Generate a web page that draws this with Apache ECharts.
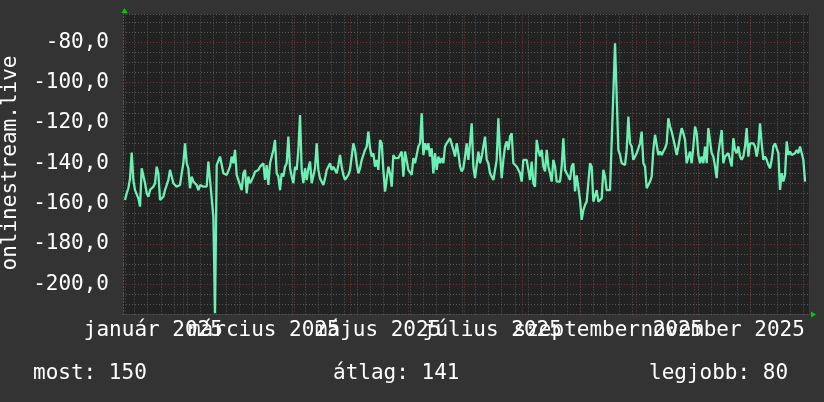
<!DOCTYPE html>
<html><head><meta charset="utf-8">
<script src="https://cdn.jsdelivr.net/npm/echarts@6/dist/echarts.min.js"></script>
<style>html,body{margin:0;padding:0;background:#333333;}#c{width:824px;height:402px;}</style>
</head><body><div id="c"></div><script>
const axisTitle = 'onlinestream.live';
const valuesFirstPart = [
-158.2,-154.9,-152.4,-147.5,-134.7,-148.3,-153.3,-154.1,-157.4,-161.5,
-142.5,-143.3,-149.9,-154.9,-156.6,-153.3,-152.4,-151.6,-149.9,-141.7,
-145,-158.2,-158.2,-156.6,-153.3,-150.8,-148.3,-143.3,-146.6,-149.9,
-150.8,-151.6,-150.8,-150.8,-145,-140,-130.1,-140,-142.5,-152.4,
-146.6,-149.1,-148.3,-150.8,-153.3,-150.8,-149.9,-151.6,-152.4,-151.6,
-139.2,-148.3,-147.5,-166.5,-214.4,-140.9,-141.7,-136.7,-137.5,-145,
-144.2,-145.8,-145,-141.7,-136.7,-140,-133.4,-145.8,-146.6,-150.8,
-153.3,-145,-143.3,-154.9,-146.6,-149.9,-148.3,-146.6,-144.2,-145,
-143.3,-141.7,-141.7,-140,-148.3,-140.9,-150.8,-140,-140,-133.4,
-128.5,-145,-146.6,-153.3,-145,-146.6,-141.7,-140,-126.8,-142.5,
-146.6,-149.9,-141.7,-143.3,-133.4,-116.1,-143.3,-149.9,-142.5,-148.3,
-142.5,-139.2,-149.9,-149.9,-142.5,-130.1,-143.3,-147.5,-146.6,-150.8,
-147.5,-143.3,-144.2,-140,-143.3,-141.7,-143.3,-145,-140.9,-135.9,
-141.7,-145.8,-148.3,-148.3,-145.8,-143.3,-143.3,-130.1,-133.4,-140,
-145,-142.5,-138.4,-139.2,-133.4,-131.8,-124.3,-132.6,-136.7,-135.1,
-141.7,-138.4,-143.3,-128.5,-130.1,-143.3,-154.1,-154.1,-141.7,-145,
-151.6,-135.9,-137.5,-137.5,-137.5
];
const valuesSecondPart = [
-138.3,-134.2,-146.6,-134.2,-135,-143.3,-143.3,-145.8,-137.5,-140,
-135.9,-131.7,-130.1,-115.2,-135.9,-130.1,-133.4,-130.1,-136.7,-132.6,
-145,-135,-143.3,-136.7,-140,-137.5,-140,-131.7,-130.1,-129.2,
-127.6,-127.6,-133.4,-136.7,-130.1,-135,-141.6,-144.1,-142.5,-136.7,
-130.1,-138.3,-130.1,-120.2,-141.6,-147.4,-146.6,-134.2,-140,-136.7,
-131.7,-126.8,-138.3,-140,-145,-145,-148.3,-147.4,-138.3,-117.7,
-135,-147.4,-138.3,-131.7,-129.2,-133.4,-126.8,-125.1,-140,-139.2,
-141.6,-142.5,-145,-149.1,-138.3,-138.3,-138.3,-143.3,-148.3,-139.2,
-149.9,-151.6,-128.4,-133.4,-136.7,-133.4,-141.6,-144.1,-133.4,-141.6,
-145,-149.1,-138.3,-141.6,-149.1,-148.3,-149.1,-141.6,-127.6,-143.3,
-145,-146.6,-148.3,-141.6,-140,-154,-146,-146.6,-158.2,-168.1,
-163.2,-160.7,-159,-159,-140,-141.7,-159,-159,-153.3,-159,
-159,-157.4,-143.3,-146.6,-153.3,-153.3,-153.3,-152.4,-105.3,-80.5,
-80.5,-133.4,-135.9,-140,-140.8,-140.8,-133.4,-116.9,-130.1,-131.7,
-138.3,-136.7,-135,-132.6,-130.1,-124.3,-140,-141.6,-152.4,-151.6,
-149.1,-146.6,-133.4,-125.9,-125.9,-135.9,-134.2,-135.9,-134.2,-132.6,
-130.1,-117.7,-121.8,-124.3,-125.1,-131.7,-135.9,-131.7,-126.8,-122.6,
-125.1,-128.4,-140,-139.2,-134.2,-140,-131.7,-121.8,-125.1,-135.9,
-140,-136.7,-140,-131.7,-140,-122.6,-121.8,-135,-136.7,-141.6,
-147.4,-135,-134.2,-123.5,-140,-136.7,-135.9,-135,-134.2,-141.6,
-127.6,-133.4,-135,-131.7,-136.7,-138.3,-136.7,-131.7,-122.6,-136.7,
-130.1,-129.2,-130.1,-131.7,-136.7,-131.7,-120.2,-130.1,-138.3,-136.7,
-138.3,-140.8,-142.5,-138.3,-131.7,-130.1,-130.1,-135,-153.2,-145,
-149.1,-145.8,-129.2,-135.9,-134.2,-135.9,-135,-135,-133.4,-135,
-131.7,-132.6,-138.3,-149.1
];
const yMajorTicks = [-200,-180,-160,-140,-120,-100,-80];
const monthLabels = ['január 2025','március 2025','május 2025','július 2025','szeptember 2025','november 2025'];
const monthLabelMonths = [0,2,4,6,8,10];
const statNames = ['most','átlag','legjobb'];
const statValues = [150,141,80];

const FONT = "'DejaVu Sans Mono', monospace";
const DAY = 86400000;
const xMin = Date.UTC(2024,11,30,19);
const xMax = Date.UTC(2026,0,1,3);
const sampleFirst = Date.UTC(2024,11,31,21);
const sampleLast = Date.UTC(2025,11,30,0);
const values = valuesFirstPart.concat(valuesSecondPart);
const step = (sampleLast - sampleFirst) / (values.length - 1);
const seriesData = values.map((v, i) => [sampleFirst + i * step, v]);

const mondays = [];
for (let t = Date.UTC(2025,0,6); t < xMax; t += 7 * DAY) mondays.push(t);
const monthStarts = [];
for (let m = 0; m <= 12; m++) monthStarts.push(Date.UTC(2025, m, 1));

const G = {left: 123, right: 15, top: 14, bottom: 87.5};
const minorColor = '#585858';
const majorColor = '#703636';
const dots = [1, 2];

const chart = echarts.init(document.getElementById('c'));
chart.setOption({
  backgroundColor: '#333333',
  animation: false,
  useUTC: true,
  grid: {left: G.left, right: G.right, top: G.top, bottom: G.bottom, show: true, backgroundColor: '#222222', borderWidth: 0},
  xAxis: {
    type: 'time', min: xMin, max: xMax,
    axisLine: {show: true, lineStyle: {color: minorColor, type: dots}},
    axisTick: {show: false}, axisLabel: {show: false}, splitLine: {show: false}
  },
  yAxis: {
    type: 'value', min: -215, max: -66, interval: 5,
    axisLine: {show: true, lineStyle: {color: minorColor, type: dots}},
    axisTick: {show: false},
    axisLabel: {
      color: '#ffffff', fontFamily: FONT, fontSize: 21, margin: 14,
      formatter: v => (yMajorTicks.indexOf(v) >= 0 ? v.toFixed(1).replace('.', ',') : '')
    },
    splitLine: {show: true, lineStyle: {color: minorColor, type: dots, width: 1}}
  },
  series: [
    {
      type: 'line', data: [], z: 1, silent: true,
      markLine: {
        silent: true, z: 1, symbol: ['none', 'none'], label: {show: false}, animation: false,
        lineStyle: {color: minorColor, type: dots, width: 1},
        data: mondays.map(t => ({xAxis: t}))
      }
    },
    {
      type: 'line', data: [], z: 1, silent: true,
      markLine: {
        silent: true, z: 2, symbol: ['none', 'none'], label: {show: false}, animation: false,
        lineStyle: {color: majorColor, type: dots, width: 1},
        data: monthStarts.map(t => ({xAxis: t})).concat(yMajorTicks.map(v => ({yAxis: v})))
      }
    },
    {
      name: axisTitle, type: 'line', data: seriesData, z: 5,
      showSymbol: false, symbol: 'none',
      lineStyle: {color: '#6cf0b4', width: 2.3},
      emphasis: {disabled: true}
    }
  ]
});

const graphics = [];
monthLabels.forEach((txt, i) => {
  const px = chart.convertToPixel({xAxisIndex: 0}, Date.UTC(2025, monthLabelMonths[i], 16));
  graphics.push({type: 'text', x: px, y: 331, silent: true,
    style: {text: txt, fill: '#ffffff', font: '21px ' + FONT, align: 'center', verticalAlign: 'middle'}});
});
const statX = [33, 333, 649];
statNames.forEach((n, i) => {
  graphics.push({type: 'text', x: statX[i], y: 374, silent: true,
    style: {text: n + ': ' + statValues[i], fill: '#ffffff', font: '21px ' + FONT, align: 'left', verticalAlign: 'middle'}});
});
graphics.push({type: 'text', x: 11, y: 163, rotation: Math.PI / 2, silent: true,
  style: {text: axisTitle, fill: '#ffffff', font: '21px ' + FONT, align: 'center', verticalAlign: 'middle'}});
const ax = G.left + 1.5, ay = G.top;
graphics.push({type: 'polygon', silent: true, shape: {points: [[ax - 3, ay - 1], [ax + 3, ay - 1], [ax, ay - 6]]}, style: {fill: '#00cc00'}});
const rx = 824 - G.right + 2, ry = 402 - G.bottom;
graphics.push({type: 'polygon', silent: true, shape: {points: [[rx, ry - 3], [rx, ry + 3], [rx + 5, ry]]}, style: {fill: '#00cc00'}});
chart.setOption({graphic: graphics});
</script></body></html>
